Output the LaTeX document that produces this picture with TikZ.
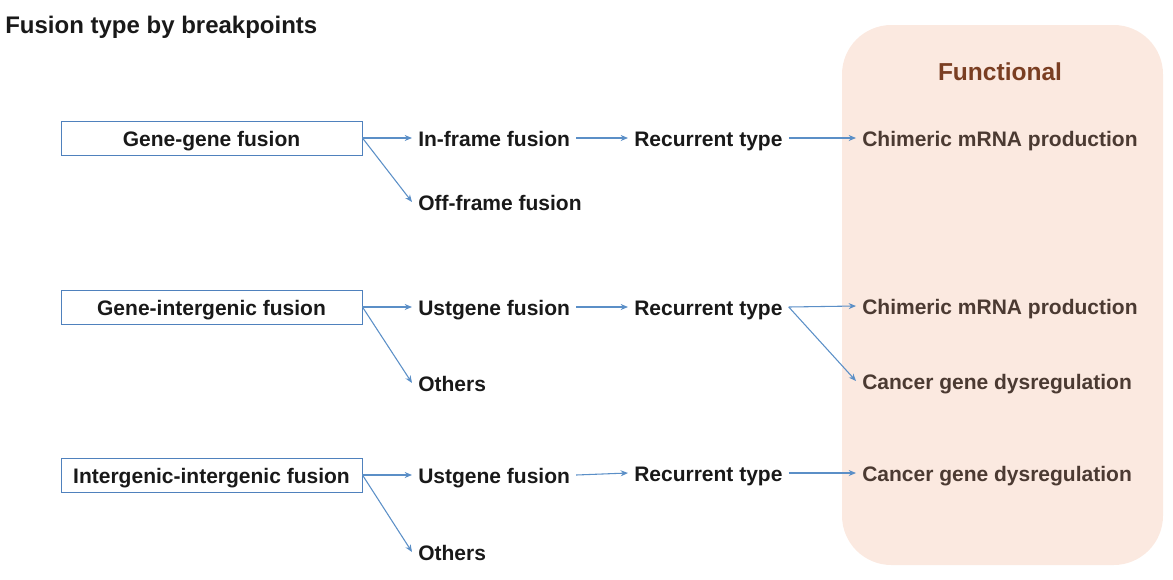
\documentclass[tikz,border=0pt]{standalone}
\usepackage{fontspec}
\setmainfont{Liberation Sans}
\usepackage{xcolor}
\usetikzlibrary{arrows.meta}
\definecolor{arrowblue}{HTML}{5B8FC7}
\definecolor{boxblue}{HTML}{4F81BD}
\definecolor{panelfill}{HTML}{FBE9E0}
\definecolor{paneltitle}{HTML}{7A3E22}
\definecolor{paneltext}{HTML}{4B3A32}
\tikzset{
    type-box/.style = {draw=boxblue, line width=0.7pt, rectangle, minimum width=225.75pt, minimum height=25.5pt, inner sep=0pt, text height=13pt, text depth=0.5pt, font=\bfseries\fontsize{15.75}{18}\selectfont, text=black!90},
    step-text/.style = {anchor=west, inner sep=4.5pt, text height=13pt, text depth=0.5pt, font=\bfseries\fontsize{15.75}{18}\selectfont, text=black!90},
    func-text/.style = {step-text, text=paneltext},
    link/.style = {draw=arrowblue, line width=0.8pt, -{Stealth[length=5.5pt,width=4.5pt]}},
}

\begin{document}
\begin{tikzpicture}[x=0.75pt,y=-0.75pt]
\useasboundingbox (0,0) rectangle (1173,579);
% functional panel
\fill[panelfill, rounded corners=37pt] (842,25) rectangle (1163,565);
\node[anchor=base, font=\bfseries\fontsize{18.4}{20}\selectfont, text=paneltitle] (functional) at (1000,80) {Functional};
\node[anchor=base west, inner sep=0pt, font=\bfseries\fontsize{18}{20}\selectfont, text=black!90] (title) at (5,33) {Fusion type by breakpoints};

% gene-gene
\node[type-box] (genegene) at (211.5,138) {Gene-gene fusion};
\node[step-text] (inframe) at (412,138) {In-frame fusion};
\node[step-text] (offframe) at (412,202) {Off-frame fusion};
\node[step-text] (recur1) at (628,138) {Recurrent type};
\node[func-text] (chimeric1) at (856,138) {Chimeric mRNA production};

% gene-intergenic
\node[type-box] (geneinter) at (211.5,307) {Gene-intergenic fusion};
\node[step-text] (ustgene1) at (412,307) {Ustgene fusion};
\node[step-text] (others1) at (412,383) {Others};
\node[step-text] (recur2) at (628,307) {Recurrent type};
\node[func-text] (chimeric2) at (856,306) {Chimeric mRNA production};
\node[func-text] (cancer1) at (856,381) {Cancer gene dysregulation};

% intergenic-intergenic
\node[type-box] (interinter) at (211.5,475) {Intergenic-intergenic fusion};
\node[step-text] (ustgene2) at (412,475) {Ustgene fusion};
\node[step-text] (others2) at (412,552) {Others};
\node[step-text] (recur3) at (628,473) {Recurrent type};
\node[func-text] (cancer2) at (856,473) {Cancer gene dysregulation};

\draw[link] (genegene.east) -- (inframe.west);
\draw[link] (genegene.east) -- (offframe.west);
\draw[link] (inframe.east) -- (recur1.west);
\draw[link] (recur1.east) -- (chimeric1.west);

\draw[link] (geneinter.east) -- (ustgene1.west);
\draw[link] (geneinter.east) -- (others1.west);
\draw[link] (ustgene1.east) -- (recur2.west);
\draw[link] (recur2.east) -- (chimeric2.west);
\draw[link] (recur2.east) -- (cancer1.west);

\draw[link] (interinter.east) -- (ustgene2.west);
\draw[link] (interinter.east) -- (others2.west);
\draw[link] (ustgene2.east) -- (recur3.west);
\draw[link] (recur3.east) -- (cancer2.west);
\end{tikzpicture}
\end{document}
